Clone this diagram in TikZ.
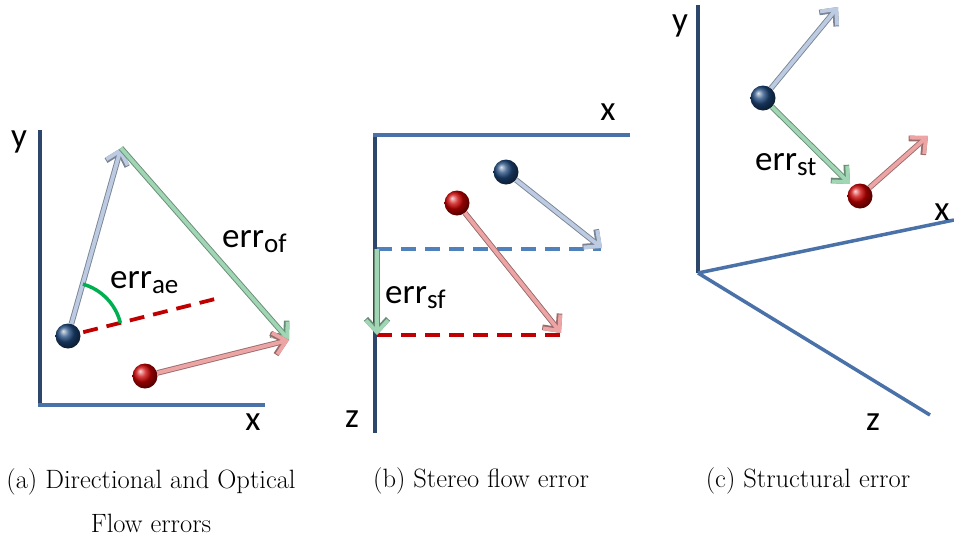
\documentclass[tikz,border=0pt]{standalone}
\usepackage{fontspec}
\usetikzlibrary{arrows.meta,shadings}
\newfontfamily\lblfont{Carlito}

\definecolor{axisdark}{RGB}{45,70,108}
\definecolor{axislight}{RGB}{74,114,168}
\definecolor{vecblue}{RGB}{188,203,226}
\definecolor{vecgreen}{RGB}{160,214,180}
\definecolor{vecred}{RGB}{236,164,164}
\definecolor{ballblue}{RGB}{30,72,125}
\definecolor{ballred}{RGB}{205,0,0}
\definecolor{dashred}{RGB}{192,0,0}
\definecolor{dashblue}{RGB}{79,129,189}
\definecolor{arcgreen}{RGB}{0,176,80}

\tikzset{
  ax/.style={line width=3.5pt, draw=#1},
  vec/.style={draw=#1, line width=3.8pt, -{Straight Barb[length=12pt,width=22pt]},
    preaction={draw=#1!65!black, line width=5.6pt, -{Straight Barb[length=12pt,width=22pt]}}},
  ball/.style={circle, minimum size=25pt, inner sep=0pt, shading=ball, ball color=#1},
  dsh/.style={draw=#1, line width=3.8pt, dash pattern=on 15pt off 9pt},
  lbl/.style={font=\lblfont\fontsize{35}{35}\selectfont, inner sep=0pt},
  captext/.style={font=\fontsize{26.5}{44}\selectfont, inner sep=0pt},
}
\newcommand{\errlbl}[1]{err\raisebox{-0.3ex}{\fontsize{27}{27}\selectfont #1}}

\begin{document}
\begin{tikzpicture}[x=1pt,y=-1pt]
    \useasboundingbox (0,0) rectangle (954,542);

    % (a) directional and optical flow
    \draw [ax=axisdark] (40,130) -- (40,405);
    \draw [ax=axislight] (38.3,405) -- (265,405);
    \node [lbl,anchor=base] (ya) at (19,147) {y};
    \node [lbl,anchor=base] (xa) at (253,430) {x};

    \node [ball=ballblue] (pa) at (68,336) {};
    \node [ball=ballred] (qa) at (145,376) {};
    \coordinate (pa') at (121,148);
    \coordinate (qa') at (289,340);
    \coordinate (da) at (219,298);

    \draw [dsh=dashred,dash phase=-3pt] (pa) -- (da);
    \draw [vec=vecblue] (pa) -- (pa');
    \draw [vec=vecgreen] (pa') -- (qa');
    \draw [vec=vecred] (qa) -- (qa');
    \draw [arcgreen,line width=3.5pt] (pa.center) ++(-74:54) arc [radius=54, start angle=-74, end angle=-14];

    \node [lbl,anchor=base west] (eae) at (110,288) {\errlbl{ae}};
    \node [lbl,anchor=base west] (eof) at (222,247) {\errlbl{of}};

    % (b) stereo flow
    \draw [ax=axisdark] (375,433) -- (375,135);
    \draw [ax=axislight] (373.3,135) -- (630,135);
    \node [lbl,anchor=base] (xb) at (608,120) {x};
    \node [lbl,anchor=base] (zb) at (352,427) {z};

    \node [ball=ballblue] (pb) at (506,172) {};
    \node [ball=ballred] (qb) at (457,203) {};
    \coordinate (pb') at (602,248);
    \coordinate (qb') at (561,333);
    \coordinate (db1) at (377,249);
    \coordinate (db2) at (377,335);

    \draw [dsh=dashblue] (db1) -- (601,249);
    \draw [dsh=dashred] (db2) -- (563,335);
    \draw [vec=vecblue] (pb) -- (pb');
    \draw [vec=vecred] (qb) -- (qb');
    \draw [vec=vecgreen] (db1) -- (db2);

    \node [lbl,anchor=base west] (esf) at (385,303) {\errlbl{sf}};

    % (c) structural
    \coordinate (oc) at (698,273);
    \draw [ax=axisdark] (oc) -- (698,5);
    \draw [ax=axislight] (oc) -- (954,220);
    \draw [ax=axislight] (oc) -- (930,415);
    \node [lbl,anchor=base] (yc) at (680,31) {y};
    \node [lbl,anchor=base] (xc) at (942,220) {x};
    \node [lbl,anchor=base] (zc) at (873,430) {z};

    \node [ball=ballblue] (pc) at (763,98) {};
    \node [ball=ballred] (qc) at (860,196) {};
    \coordinate (pc') at (838,7);
    \coordinate (qc') at (928,136);
    \coordinate (gc) at (850,184);

    \draw [vec=vecblue] (pc) -- (pc');
    \draw [vec=vecgreen] (pc) -- (gc);
    \draw [vec=vecred] (qc) -- (qc');

    \node [lbl,anchor=base west] (est) at (755,170) {\errlbl{st}};

    % captions
    \node [captext,anchor=north,align=center] (ca) at (151,468) {(a) Directional and Optical\\Flow errors};
    \node [captext,anchor=base] (cb) at (481,487) {(b) Stereo flow error};
    \node [captext,anchor=base] (cc) at (808,487) {(c) Structural error};

\end{tikzpicture}
\end{document}
